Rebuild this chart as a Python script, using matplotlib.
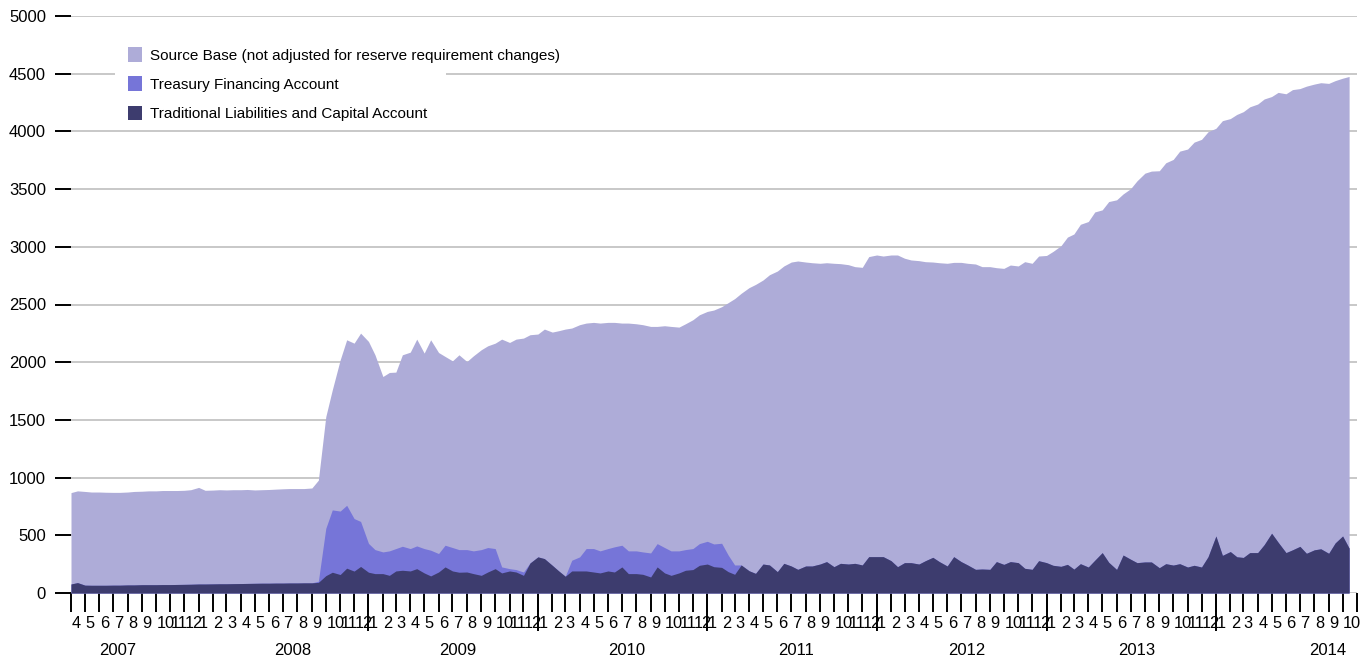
import numpy as np
import pandas as pd
import matplotlib
matplotlib.use('Agg')
import matplotlib.pyplot as plt
import matplotlib.dates as mdates
from matplotlib.patches import Patch, Rectangle
from matplotlib.ticker import FuncFormatter, FixedLocator
from matplotlib.transforms import ScaledTranslation, blended_transform_factory

plt.rcParams['font.family'] = ['Liberation Sans', 'DejaVu Sans']

# readings on the 1st and 15th of each month, Apr 2007 - Oct 2014 (billions)
months = pd.date_range('2007-04-01', '2014-10-01', freq='MS')
dates = []
for m in months:
    dates.append(m)
    dates.append(m + pd.Timedelta(days=14))
dates = pd.DatetimeIndex(dates)

source_base = [
    870, 885, 880, 875, 875, 873, 872, 872, 875, 880, 882, 885, 885, 888, 888, 888, 890, 895,
    915, 890, 892, 895, 893, 895, 895, 897, 893, 895, 897, 900, 903, 905, 905, 905, 910, 978, 1528, 1760, 2020, 2194, 2165, 2252,
    2180, 2064, 1876, 1911, 1914, 2064, 2087, 2200, 2079, 2194, 2084, 2050, 2012, 2064, 2006, 2055, 2108, 2142, 2165, 2200, 2171, 2200, 2209, 2238,
    2244, 2287, 2261, 2273, 2287, 2296, 2325, 2339, 2345, 2339, 2345, 2345, 2339, 2339, 2333, 2325, 2310, 2310, 2316, 2310, 2304, 2333, 2368, 2411,
    2440, 2452, 2481, 2516, 2551, 2597, 2646, 2674, 2712, 2758, 2790, 2834, 2868, 2877, 2868, 2862, 2857, 2862, 2857, 2854, 2845, 2828, 2822, 2915,
    2929, 2920, 2929, 2929, 2901, 2886, 2880, 2871, 2868, 2862, 2857, 2865, 2865, 2857, 2851, 2828, 2828, 2819, 2813, 2842, 2834, 2871, 2857, 2920,
    2925, 2960, 3009, 3084, 3111, 3195, 3219, 3302, 3320, 3392, 3407, 3458, 3503, 3572, 3638, 3656, 3659, 3728, 3757, 3829, 3847, 3907, 3931, 3997,
    4027, 4093, 4111, 4147, 4171, 4213, 4237, 4281, 4302, 4338, 4326, 4362, 4371, 4392, 4410, 4422, 4416, 4440, 4461, 4476,
]

treasury = [
    0, 0, 0, 0, 0, 0, 0, 0, 0, 0, 0, 0, 0, 0, 0, 0, 0, 0,
    0, 0, 0, 0, 0, 0, 0, 0, 0, 0, 0, 0, 0, 0, 0, 0, 0, 10, 410, 540, 550, 545, 455, 390,
    250, 208, 188, 212, 194, 208, 194, 197, 211, 223, 160, 188, 203, 196, 194, 197, 223, 212, 174, 52, 20, 21, 29, 0,
    0, 0, 0, 0, 0, 93, 122, 194, 203, 191, 194, 218, 188, 197, 197, 194, 208, 202, 220, 212, 191, 179, 182, 188,
    197, 197, 209, 144, 81, 0, 0, 0, 0, 0, 0, 0, 0, 0, 0, 0, 0, 0, 0, 0, 0, 0, 0, 0,
    0, 0, 0, 0, 0, 0, 0, 0, 0, 0, 0, 0, 0, 0, 0, 0, 0, 0, 0, 0, 0, 0, 0, 0,
    0, 0, 0, 0, 0, 0, 0, 0, 0, 0, 0, 0, 0, 0, 0, 0, 0, 0, 0, 0, 0, 0, 0, 0,
    0, 0, 0, 0, 0, 0, 0, 0, 0, 0, 0, 0, 0, 0, 0, 0, 0, 0, 0, 0,
]

traditional = [
    78, 90, 68, 67, 67, 67, 68, 68, 70, 70, 72, 72, 72, 73, 73, 74, 75, 76,
    78, 78, 79, 80, 80, 81, 82, 83, 84, 85, 85, 86, 86, 87, 87, 88, 88, 92, 150, 180, 160, 215, 190, 230,
    180, 168, 168, 153, 191, 197, 191, 211, 174, 148, 182, 226, 191, 180, 182, 168, 153, 182, 211, 174, 191, 182, 153, 260,
    313, 298, 240, 191, 145, 191, 191, 191, 182, 174, 191, 182, 226, 168, 168, 162, 139, 226, 174, 153, 174, 197, 203, 240,
    251, 228, 222, 185, 162, 243, 193, 170, 251, 243, 185, 257, 234, 205, 234, 234, 251, 272, 228, 257, 251, 257, 243, 315,
    315, 315, 280, 228, 263, 263, 251, 280, 309, 272, 234, 315, 272, 243, 205, 208, 205, 272, 248, 272, 263, 214, 205, 280,
    263, 240, 231, 248, 207, 254, 225, 284, 350, 266, 204, 329, 293, 263, 269, 269, 219, 254, 242, 254, 225, 240, 225, 314,
    494, 326, 359, 314, 308, 350, 350, 419, 518, 440, 350, 374, 404, 344, 374, 383, 344, 434, 494, 389,
]

series_names = ['Source Base (not adjusted for reserve requirement changes)',
                'Treasury Financing Account',
                'Traditional Liabilities and Capital Account']
colors = ['#aeacd8', '#7675d8', '#3d3c6e']

years = ['2007', '2008', '2009', '2010', '2011', '2012', '2013', '2014']
year_label_pos = ['2007-07-11', '2008-07-22', '2009-07-12', '2010-07-11',
                  '2011-07-12', '2012-07-13', '2013-07-14', '2014-08-30']

sb = np.array(source_base)
tfa = np.array(treasury)
trad = np.array(traditional)

W, H = 1371, 658
fig = plt.figure(figsize=(W / 100, H / 100), dpi=100)
ax = fig.add_axes([71 / W, (H - 593) / H, (1357 - 71) / W, (593 - 16) / H])

ax.fill_between(dates, 0, sb, color=colors[0], lw=0, zorder=2)
ax.fill_between(dates, 0, trad + tfa, color=colors[1], lw=0, zorder=3)
ax.fill_between(dates, 0, trad, color=colors[2], lw=0, zorder=4)

ax.set_xlim(pd.Timestamp('2007-04-01'), pd.Timestamp('2014-11-01'))
ax.set_ylim(0, 5000)

for s in ax.spines.values():
    s.set_visible(False)

# y axis
ax.set_yticks(np.arange(0, 5001, 500))
ax.yaxis.grid(True, color='#c4c4c4', lw=1.3)
ax.set_axisbelow(True)
ax.tick_params(axis='y', length=11.5, width=1.4, pad=6.5, labelsize=12, color='black')

# x axis: month ticks with numbers, longer ticks at year starts
ax.xaxis.set_major_locator(mdates.MonthLocator())
last = mdates.date2num(pd.Timestamp('2014-11-01'))
ax.xaxis.set_major_formatter(FuncFormatter(
    lambda v, p: '' if v >= last - 1 else str(mdates.num2date(v).month)))
year_ticks = [mdates.date2num(pd.Timestamp(f'{y}-01-01')) for y in range(2009, 2015)]
ax.xaxis.set_minor_locator(FixedLocator(year_ticks))
ax.xaxis.remove_overlapping_locs = False
ax.tick_params(axis='x', which='major', length=13.7, width=1.4, pad=3.2, labelsize=11.8)
ax.tick_params(axis='x', which='minor', length=27.4, width=1.4)
off = ScaledTranslation(0.005, 0, fig.dpi_scale_trans)
for lbl in ax.get_xticklabels():
    lbl.set_horizontalalignment('left')
    lbl.set_transform(lbl.get_transform() + off)

trans = blended_transform_factory(ax.transData, fig.transFigure)
for y, pos in zip(years, year_label_pos):
    ax.text(pd.Timestamp(pos), (H - 655) / H, y, transform=trans,
            ha='center', va='baseline', fontsize=12)

# legend with white backdrop over the gridline
ax.add_patch(Rectangle((115 / W, (H - 128) / H), (446 - 115) / W, 88 / H,
                       transform=fig.transFigure, facecolor='white',
                       edgecolor='none', zorder=1))
handles = [Patch(facecolor=c, edgecolor='none') for c in colors]
ax.legend(handles, series_names, loc='upper left',
          bbox_to_anchor=(128 / W, (H - 47) / H), bbox_transform=fig.transFigure,
          frameon=False, fontsize=11, borderpad=0, borderaxespad=0,
          handlelength=0.92, handleheight=1.11, handletextpad=0.5,
          labelspacing=0.9)

fig.savefig('out.png', dpi=100)
